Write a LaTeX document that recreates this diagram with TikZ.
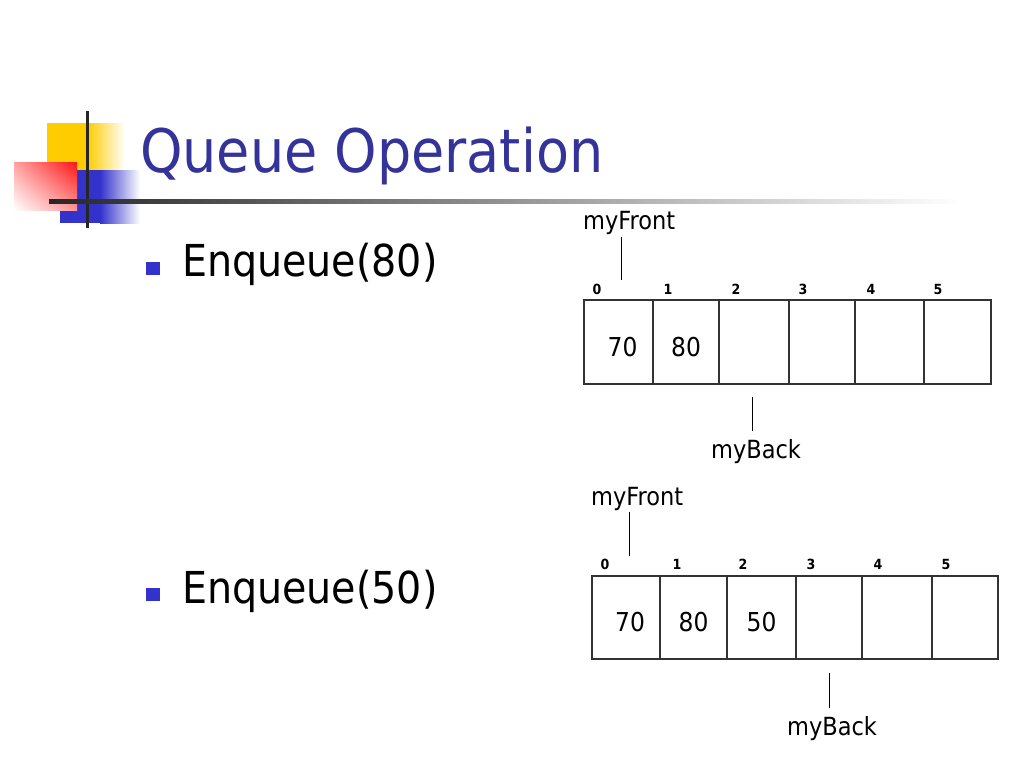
\documentclass[tikz,border=0pt]{standalone}
\usepackage{fontspec}
\setmainfont{DejaVu Sans Condensed}
\usepackage{tikz}
\usetikzlibrary{shadings}

\definecolor{titleblue}{RGB}{51,51,153}
\definecolor{bulletblue}{RGB}{51,51,204}
\definecolor{logoyellow}{RGB}{255,204,0}
\definecolor{logoblue}{RGB}{51,51,204}
\definecolor{logored}{RGB}{255,20,20}

\tikzset{
  title/.style={font=\fontsize{60}{68}\selectfont, text=titleblue, anchor=base west, inner sep=0pt},
  item/.style={font=\fontsize{44}{50}\selectfont, anchor=base west, inner sep=0pt},
  bullet/.style={fill=bulletblue, minimum width=14pt, minimum height=13pt, inner sep=0pt},
  cell/.style={draw=black!80, line width=1.2pt, inner sep=0pt, text height=29pt, font=\fontsize{26}{30}\selectfont},
  idx/.style={font=\bfseries\fontsize{14}{16}\selectfont, inner sep=0pt},
  tag/.style={font=\fontsize{25}{28}\selectfont, anchor=base west, inner sep=0pt},
  ptr/.style={draw=black, line width=1pt}
}

\begin{document}
\begin{tikzpicture}[x=1pt, y=-1pt]
    \fill[white] (0,0) rectangle (1024,768);
    \useasboundingbox (0,0) rectangle (1024,768);

    % corner logo
    \fill[logoyellow] (47,123) rectangle (87,171);
    \shade[left color=logoyellow, right color=white] (87,123) rectangle (125,171);
    \fill[logoblue] (60,170) rectangle (100,223);
    \shade[left color=logoblue, right color=white] (100,170) rectangle (140,223);
    \shade[upper right=logored, upper left=logored!40, lower left=white, lower right=logored!45] (14,162) rectangle (77,210);
    \draw[line width=3pt, black!85] (87,111) -- (87,228);
    \shade[left color=black!85, right color=white] (49,199) rectangle (960,203);

    \node[title] (t) at (140,172) {Queue Operation};

    \node[bullet] (b1) at (153,268.5) {};
    \node[item] (e1) at (182,276) {Enqueue(80)};
    \node[bullet] (b2) at (153,594.5) {};
    \node[item] (e2) at (182,603) {Enqueue(50)};

    % first queue
    \node[cell, minimum width=69pt, minimum height=84pt] (a0) at (618.5,342) {\hspace{8pt}70};
    \node[cell, minimum width=66pt, minimum height=84pt] (a1) at (686,342) {80\hspace{5pt}};
    \node[cell, minimum width=70pt, minimum height=84pt] (a2) at (754,342) {};
    \node[cell, minimum width=66pt, minimum height=84pt] (a3) at (822,342) {};
    \node[cell, minimum width=69pt, minimum height=84pt] (a4) at (889.5,342) {};
    \node[cell, minimum width=67pt, minimum height=84pt] (a5) at (957.5,342) {};

    \node[idx] (i0) at (597,289) {0};
    \node[idx] (i1) at (668,289) {1};
    \node[idx] (i2) at (736,289) {2};
    \node[idx] (i3) at (803,289) {3};
    \node[idx] (i4) at (871,289) {4};
    \node[idx] (i5) at (938,289) {5};

    \node[tag] (fr1) at (583,229) {myFront};
    \node[tag] (bk1) at (711,458) {myBack};
    \coordinate (f1a) at (621,237);
    \coordinate (f1b) at (621,280);
    \coordinate (k1a) at (752,397);
    \coordinate (k1b) at (752,431);
    \draw[ptr] (f1a) -- (f1b);
    \draw[ptr] (k1a) -- (k1b);

    % second queue
    \node[cell, minimum width=68pt, minimum height=83pt] (c0) at (626,617.5) {\hspace{8pt}70};
    \node[cell, minimum width=67pt, minimum height=83pt] (c1) at (693.5,617.5) {80\hspace{5pt}};
    \node[cell, minimum width=69pt, minimum height=83pt] (c2) at (761.5,617.5) {50\hspace{5pt}};
    \node[cell, minimum width=66pt, minimum height=83pt] (c3) at (829,617.5) {};
    \node[cell, minimum width=70pt, minimum height=83pt] (c4) at (897,617.5) {};
    \node[cell, minimum width=66pt, minimum height=83pt] (c5) at (965,617.5) {};

    \node[idx] (j0) at (605,564) {0};
    \node[idx] (j1) at (677,564) {1};
    \node[idx] (j2) at (743,564) {2};
    \node[idx] (j3) at (811,564) {3};
    \node[idx] (j4) at (878,564) {4};
    \node[idx] (j5) at (946,564) {5};

    \node[tag] (fr2) at (591,505) {myFront};
    \node[tag] (bk2) at (787,735) {myBack};
    \coordinate (f2a) at (629,512);
    \coordinate (f2b) at (629,556);
    \coordinate (k2a) at (829,673);
    \coordinate (k2b) at (829,708);
    \draw[ptr] (f2a) -- (f2b);
    \draw[ptr] (k2a) -- (k2b);
\end{tikzpicture}
\end{document}
